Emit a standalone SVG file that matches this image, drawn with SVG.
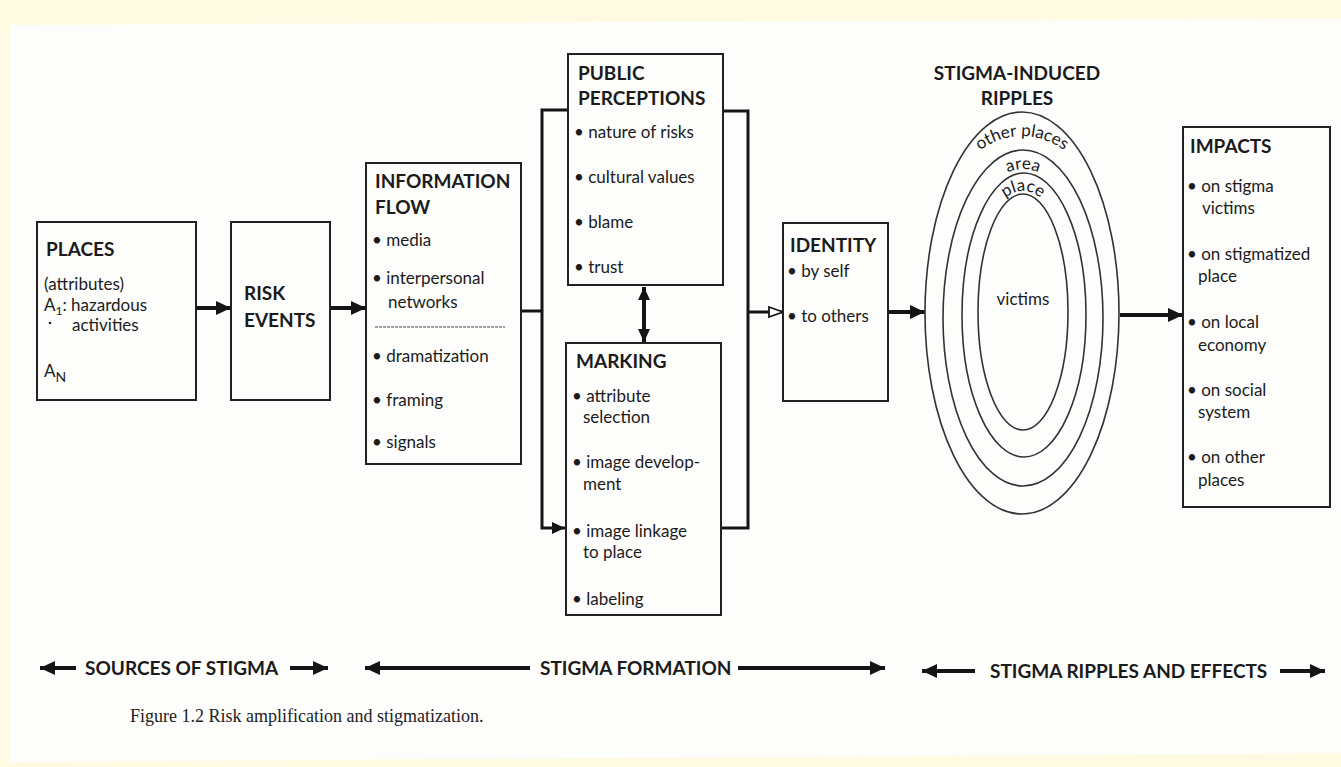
<svg xmlns="http://www.w3.org/2000/svg" width="1341" height="767" viewBox="0 0 1341 767">
<style>
.box{fill:none;stroke:#222;stroke-width:2}
.h{font-family:Lato,"Open Sans",sans-serif;font-weight:bold;font-size:19px;fill:#1b1b1b}
.t{font-family:Lato,"Open Sans",sans-serif;font-size:17px;fill:#1b1b1b}
.c{fill:none;stroke:#151515;stroke-width:3}
.thick{fill:none;stroke:#151515;stroke-width:4}
.ring{fill:none;stroke:#333;stroke-width:1.6}
.lab{font-family:Lato,"Open Sans",sans-serif;font-weight:bold;font-size:19px;fill:#1b1b1b}
.cap{font-family:"Liberation Serif",serif;font-size:18px;fill:#222}
</style>
<defs>
<marker id="ah" markerUnits="userSpaceOnUse" markerWidth="16" markerHeight="16" refX="15" refY="8" orient="auto-start-reverse" viewBox="0 0 16 16">
<path d="M0,1 L15,8 L0,15 z" fill="#151515"/>
</marker>
<marker id="ahs" markerUnits="userSpaceOnUse" markerWidth="14" markerHeight="14" refX="13" refY="7" orient="auto-start-reverse" viewBox="0 0 14 14">
<path d="M0,1 L13,7 L0,13 z" fill="#151515"/>
</marker>
<marker id="open" markerUnits="userSpaceOnUse" markerWidth="16" markerHeight="14" refX="15" refY="7" orient="auto" viewBox="0 0 16 14">
<path d="M1,2 L15,7 L1,12 z" fill="#fff" stroke="#151515" stroke-width="1.8"/>
</marker>
<path id="arcOuter" d="M912,322 A110,186 0 0 1 1132,322"/>
<path id="arcArea" d="M950,319 A73,150 0 0 1 1096,319"/>
<path id="arcPlace" d="M969,315 A54,124 0 0 1 1077,315"/>
</defs>
<rect width="1341" height="767" fill="#fefbe2"/>
<polygon points="10,25 1341,19 1341,753 10,762" fill="#fdfdfc"/>

<g id="connectors">
<line class="thick" x1="196" y1="308" x2="231" y2="308" marker-end="url(#ah)"/>
<line class="thick" x1="330" y1="308" x2="366" y2="308" marker-end="url(#ah)"/>
<path class="c" d="M521,311 H542"/>
<path class="c" d="M567,110 H542 V528 H565" marker-end="url(#ahs)"/>
<path class="c" d="M723,111 H748 V528 H721"/>
<line class="c" x1="748" y1="312" x2="783" y2="312" marker-end="url(#open)"/>
<line class="thick" x1="644" y1="287" x2="644" y2="342" marker-start="url(#ahs)" marker-end="url(#ahs)"/>
<line class="thick" x1="888" y1="312" x2="925" y2="312" marker-end="url(#ah)"/>
<line class="thick" x1="1120" y1="315" x2="1183" y2="315" marker-end="url(#ah)"/>
</g>

<g id="places">
<rect class="box" x="37" y="222" width="159" height="178"/>
<text class="h" x="46" y="256">PLACES</text>
<text class="t" x="44" y="290">(attributes)</text>
<text class="t" x="44" y="311">A<tspan font-size="12" dy="4">1</tspan><tspan dy="-4">: hazardous</tspan></text>
<circle cx="50" cy="323" r="1.3" fill="#222"/>
<text class="t" x="72" y="331">activities</text>
<text class="t" x="44" y="377" font-size="18">A<tspan font-size="14" dy="5">N</tspan></text>
</g>

<g id="risk-events">
<rect class="box" x="231" y="222" width="99" height="178"/>
<text class="h" x="244" y="300">RISK</text>
<text class="h" x="244" y="327">EVENTS</text>
</g>

<g id="information-flow">
<rect class="box" x="366" y="163" width="155" height="301"/>
<text class="h" x="375" y="188">INFORMATION</text>
<text class="h" x="375" y="214">FLOW</text>
<text class="t" x="372" y="246">• media</text>
<text class="t" x="372" y="284">• interpersonal</text>
<text class="t" x="388" y="308">networks</text>
<line x1="375" y1="327" x2="505" y2="327" stroke="#444" stroke-width="1" stroke-dasharray="3,1"/>
<text class="t" x="372" y="362">• dramatization</text>
<text class="t" x="372" y="406">• framing</text>
<text class="t" x="372" y="448">• signals</text>
</g>

<g id="public-perceptions">
<rect class="box" x="568" y="54" width="155" height="231"/>
<text class="h" x="578" y="80">PUBLIC</text>
<text class="h" x="578" y="105">PERCEPTIONS</text>
<text class="t" x="574" y="138">• nature of risks</text>
<text class="t" x="574" y="183">• cultural values</text>
<text class="t" x="574" y="228">• blame</text>
<text class="t" x="574" y="273">• trust</text>
</g>

<g id="marking">
<rect class="box" x="566" y="343" width="155" height="272"/>
<text class="h" x="576" y="368">MARKING</text>
<text class="t" x="572" y="402">• attribute</text>
<text class="t" x="583" y="423">selection</text>
<text class="t" x="572" y="468">• image develop-</text>
<text class="t" x="583" y="490">ment</text>
<text class="t" x="572" y="537">• image linkage</text>
<text class="t" x="583" y="558">to place</text>
<text class="t" x="572" y="605">• labeling</text>
</g>

<g id="identity">
<rect class="box" x="783" y="223" width="105" height="178"/>
<text class="h" x="790" y="252">IDENTITY</text>
<text class="t" x="787" y="277">• by self</text>
<text class="t" x="787" y="322">• to others</text>
</g>

<g id="ripples">
<text class="h" x="1017" y="80" text-anchor="middle">STIGMA-INDUCED</text>
<text class="h" x="1017" y="105" text-anchor="middle">RIPPLES</text>
<ellipse class="ring" cx="1022" cy="313" rx="97" ry="201"/>
<ellipse class="ring" cx="1023" cy="318" rx="80" ry="168"/>
<ellipse class="ring" cx="1024" cy="315" rx="62" ry="142"/>
<ellipse class="ring" cx="1023" cy="312" rx="45" ry="118"/>
<text class="t" font-size="15.5"><textPath href="#arcOuter" startOffset="50%" text-anchor="middle">other places</textPath></text>
<text class="t" font-size="15"><textPath href="#arcArea" startOffset="50%" text-anchor="middle">area</textPath></text>
<text class="t" font-size="15.5"><textPath href="#arcPlace" startOffset="50%" text-anchor="middle">place</textPath></text>
<text class="t" x="1023" y="305" text-anchor="middle">victims</text>
</g>

<g id="impacts">
<rect class="box" x="1183" y="127" width="147" height="380"/>
<text class="h" x="1190" y="153">IMPACTS</text>
<text class="t" x="1187" y="192">• on stigma</text>
<text class="t" x="1202" y="214">victims</text>
<text class="t" x="1187" y="260">• on stigmatized</text>
<text class="t" x="1198" y="282">place</text>
<text class="t" x="1187" y="328">• on local</text>
<text class="t" x="1198" y="351">economy</text>
<text class="t" x="1187" y="396">• on social</text>
<text class="t" x="1198" y="418">system</text>
<text class="t" x="1187" y="463">• on other</text>
<text class="t" x="1198" y="486">places</text>
</g>

<g id="phases">
<line class="thick" x1="76" y1="668" x2="40" y2="668" marker-end="url(#ah)"/>
<text class="lab" x="85" y="675">SOURCES OF STIGMA</text>
<line class="thick" x1="290" y1="668" x2="328" y2="668" marker-end="url(#ah)"/>
<line class="thick" x1="530" y1="668" x2="365" y2="668" marker-end="url(#ah)"/>
<text class="lab" x="540" y="675">STIGMA FORMATION</text>
<line class="thick" x1="738" y1="668" x2="885" y2="668" marker-end="url(#ah)"/>
<line class="thick" x1="975" y1="671" x2="922" y2="671" marker-end="url(#ah)"/>
<text class="lab" x="990" y="678">STIGMA RIPPLES AND EFFECTS</text>
<line class="thick" x1="1280" y1="671" x2="1325" y2="671" marker-end="url(#ah)"/>
</g>

<text class="cap" x="130" y="722">Figure 1.2 Risk amplification and stigmatization.</text>
</svg>
